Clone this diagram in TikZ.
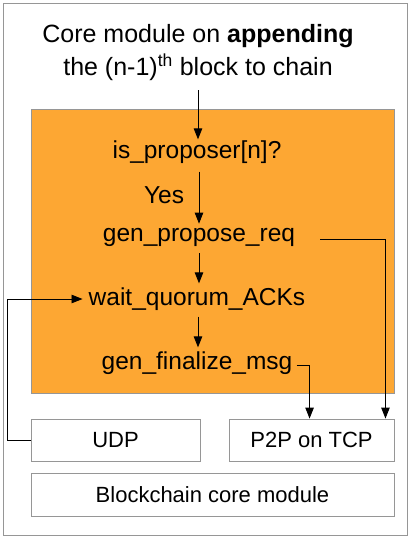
\documentclass[tikz,border=0pt]{standalone}
\usepackage{fontspec}
\setmainfont{Liberation Sans}
\usetikzlibrary{arrows.meta}
\definecolor{coreorange}{RGB}{253,167,51}
\definecolor{edgegray}{RGB}{150,150,150}
\begin{document}
\begin{tikzpicture}[x=1pt,y=-1pt,
  arr/.style={line width=0.9pt,-{Triangle[length=11pt,width=8.5pt]}},
  txt/.style={inner sep=3pt,font=\fontsize{24.5}{30}\selectfont},
  box/.style={draw=edgegray,line width=0.9pt,fill=white,inner sep=0pt,font=\fontsize{22}{26}\selectfont},
]
\useasboundingbox (0,0) rectangle (413,540);
\node[draw=edgegray,line width=0.9pt,minimum width=404pt,minimum height=532pt,inner sep=0pt] (outer) at (205,269) {};
\node[draw=edgegray,line width=0.9pt,fill=coreorange,minimum width=363pt,minimum height=284pt,inner sep=0pt] (core) at (212.5,251) {};
\node[align=center,inner sep=3pt,font=\fontsize{25}{33}\selectfont] (title) at (198,53)
  {Core module on \textbf{appending}\\the (n-1)\textsuperscript{th} block to chain};
\node[txt] (isprop) at (197,152) {is\_proposer[n]?};
\node[txt] (yes) at (164,195) {Yes};
\node[txt] (propose) at (199,237) {gen\_propose\_req};
\node[txt] (wait) at (197,299) {wait\_quorum\_ACKs};
\node[txt] (final) at (197,363) {gen\_finalize\_msg};
\node[box,minimum width=169pt,minimum height=42pt] (udp) at (115.5,440) {UDP};
\node[box,minimum width=165pt,minimum height=42pt] (p2p) at (311.5,440) {P2P on TCP};
\node[box,minimum width=363pt,minimum height=43pt] (bc) at (212.5,494.5) {Blockchain core module};
% connectors
\draw[arr,shorten <=6pt,shorten >=-2pt] (title.south -| 198,0) -- (isprop.north -| 198,0);
\draw[arr,shorten <=5pt,shorten >=1pt] (isprop.south -| 199,0) -- (propose.north -| 199,0);
\draw[arr,shorten <=4pt,shorten >=1pt] (propose.south -| 199,0) -- (wait.north -| 199,0);
\draw[arr,shorten <=3pt,shorten >=1pt] (wait.south -| 198,0) -- (final.north -| 198,0);
\draw[arr] ([xshift=22pt,yshift=-2pt]propose.east) -| ([xshift=-9pt]p2p.north east);
\draw[arr] ([shift={(1pt,-2pt)}]final.east) -| ([xshift=81pt]p2p.north west);
\draw[arr,shorten >=3pt] (udp.west) -- ++(-23,0) |- (wait.west);
\end{tikzpicture}
\end{document}
